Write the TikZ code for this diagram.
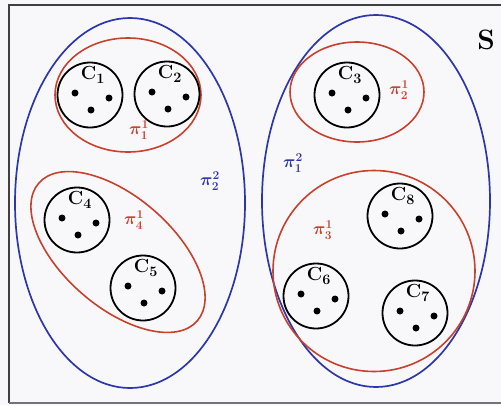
\documentclass[tikz,border=0pt]{standalone}
\usetikzlibrary{shapes.geometric,calc}
\definecolor{pblue}{RGB}{45,55,170}
\definecolor{pred}{RGB}{200,65,45}
\definecolor{bgc}{RGB}{248,248,250}
\begin{document}
\begin{tikzpicture}[x=1pt,y=1pt,
  bluering/.style={ellipse, draw=pblue, line width=1.7pt, inner sep=0pt},
  redring/.style={ellipse, draw=pred, line width=1.6pt, inner sep=0pt},
  cluster/.style={circle, draw=black, line width=1.8pt, minimum size=65pt, inner sep=0pt},
  cdot/.style={circle, fill=black, minimum size=7pt, inner sep=0pt},
  clabel/.style={font=\fontsize{19}{19}\selectfont\bfseries, inner sep=0pt},
  plabel/.style={font=\fontsize{17}{17}\selectfont\boldmath, inner sep=0pt}]
\fill[bgc] (0,0) rectangle (501,-405);
\useasboundingbox (0,0) rectangle (501,-405);
\draw[line width=2pt, black!75] (9,-403) -- (9,-5) -- (520,-5);
\draw[line width=2pt, black!55] (9,-403) -- (520,-403);
\node[font=\fontsize{28}{28}\selectfont\bfseries, inner sep=0pt] (S) at (486,-40) {S};
% blue partitions
\node[bluering, minimum width=230pt, minimum height=370pt] (b2) at (130,-203) {};
\node[bluering, minimum width=228pt, minimum height=372pt] (b1) at (376,-201) {};
% red partitions
\node[redring, minimum width=146pt, minimum height=114pt] (r1) at (128,-95) {};
\node[redring, minimum width=134pt, minimum height=100pt] (r2) at (357,-92) {};
\node[redring, minimum width=202pt, minimum height=201pt] (r3) at (374,-271) {};
\node[redring, minimum width=210pt, minimum height=110pt, rotate=-41] (r4) at (118,-252) {};
% clusters
\foreach \i/\cx/\cy in {1/90/95, 2/167/94, 3/347/95, 4/77/220, 5/143/288, 6/316/296, 7/415/313, 8/400/216}{
  \node[cluster] (c\i) at (\cx,-\cy) {};
  \node[clabel] (cl\i) at ($(c\i.center)+(3,20)$) {C$_{\mathbf{\i}}$};
  \node[cdot] (d\i a) at ($(c\i.center)+(-15,2)$) {};
  \node[cdot] (d\i b) at ($(c\i.center)+(19,-3)$) {};
  \node[cdot] (d\i c) at ($(c\i.center)+(1,-15)$) {};
}
% labels
\node[plabel, text=pred] (p11) at (139,-130) {$\pi^1_1$};
\node[plabel, text=pred] (p12) at (399,-90) {$\pi^1_2$};
\node[plabel, text=pred] (p13) at (323,-230) {$\pi^1_3$};
\node[plabel, text=pred] (p14) at (134,-220) {$\pi^1_4$};
\node[plabel, text=pblue] (p22) at (210,-181) {$\pi^2_2$};
\node[plabel, text=pblue] (p21) at (293,-163) {$\pi^2_1$};
\end{tikzpicture}
\end{document}
